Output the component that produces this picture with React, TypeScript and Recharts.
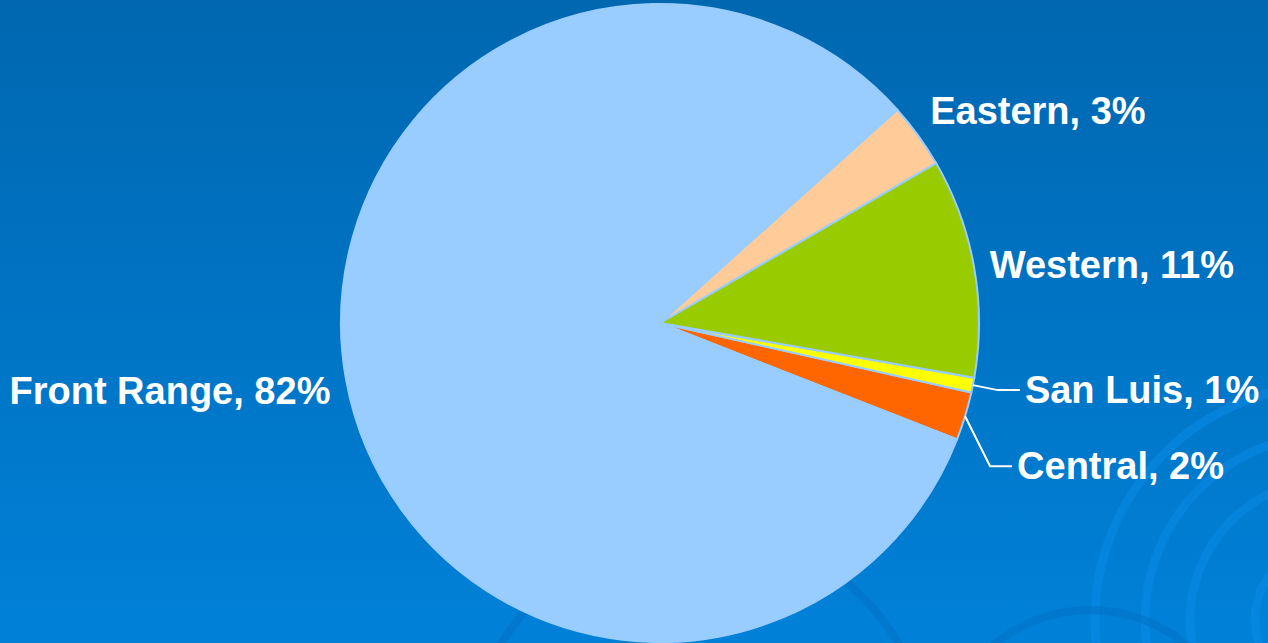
import React from 'react';
import { PieChart, Pie, Cell } from 'recharts';

// slices in drawing order (counter-clockwise, starting at the bottom of Central)
const regions = ['Central', 'San Luis', 'Western', 'Eastern', 'Front Range'];
const shares = [2.45, 0.75, 11.1, 3.3, 82.4];
const colors = ['#FF6600', '#FFFF00', '#99CC00', '#FFCC99', '#99CCFF'];

// label tweaks: vertical drop of the leader line for small slices, nudges for the others
const leaderDrop: Record<string, number> = { Central: 50, 'San Luis': 5 };
const labelNudge: Record<string, [number, number]> = {
  Eastern: [-4, -13],
  Western: [-4, 1],
  'Front Range': [4, 8],
};

const data = regions.map((name, i) => ({ name, value: shares[i] }));

const RAD = Math.PI / 180;
const font = { fontFamily: '"Liberation Sans", Arial, sans-serif', fontWeight: 700, fontSize: 38 };

function renderLabel(props: any) {
  const { cx, cy, midAngle, outerRadius, name, percent } = props;
  const cos = Math.cos(-midAngle * RAD);
  const sin = Math.sin(-midAngle * RAD);
  const text = `${name}, ${Math.round(percent * 100)}%`;
  if (percent < 0.03) {
    const sx = cx + outerRadius * cos;
    const sy = cy + outerRadius * sin;
    const ex = sx + 25;
    const ey = sy + (leaderDrop[name] ?? 0);
    const tx = ex + 22;
    return (
      <g>
        <polyline points={`${sx},${sy} ${ex},${ey} ${tx},${ey}`} fill="none" stroke="#ffffff" strokeWidth={2} />
        <text x={tx + 5} y={ey} fill="#ffffff" textAnchor="start" dominantBaseline="central" style={font}>
          {text}
        </text>
      </g>
    );
  }
  const r = outerRadius + 20;
  const [nx, ny] = labelNudge[name] ?? [0, 0];
  const x = cx + r * cos + nx;
  const y = cy + r * sin + ny;
  return (
    <text x={x} y={y} fill="#ffffff" textAnchor={cos >= 0 ? 'start' : 'end'} dominantBaseline="central" style={font}>
      {text}
    </text>
  );
}

export default function App() {
  return (
    <div
      style={{
        position: 'absolute',
        left: 0,
        top: 0,
        width: 1268,
        height: 643,
        overflow: 'hidden',
        background: 'linear-gradient(180deg, #0067B0 0%, #0074C4 50%, #0081D8 100%)',
      }}
    >
      {/* faint background rings */}
      <svg width={1268} height={643} style={{ position: 'absolute', left: 0, top: 0 }}>
        <g fill="none" stroke="#0A8CE8" strokeOpacity={0.5} strokeWidth={9}>
          <circle cx={1330} cy={620} r={140} />
          <circle cx={1330} cy={620} r={185} />
          <circle cx={1330} cy={620} r={235} />
          <circle cx={1330} cy={620} r={75} />
        </g>
        <g fill="none" stroke="#0070C4" strokeOpacity={0.5} strokeWidth={8}>
          <circle cx={700} cy={760} r={230} />
          <circle cx={1090} cy={760} r={150} />
        </g>
      </svg>
      <PieChart
        width={1268}
        height={643}
        margin={{ top: 0, right: 0, bottom: 0, left: 0 }}
        style={{ position: 'absolute', left: 0, top: 0 }}
      >
        <Pie
          data={data}
          dataKey="value"
          nameKey="name"
          cx={660}
          cy={323}
          outerRadius={319}
          startAngle={-21.4}
          endAngle={338.6}
          stroke="#99CCFF"
          strokeWidth={2}
          label={renderLabel}
          labelLine={false}
          isAnimationActive={false}
        >
          {data.map((d, i) => (
            <Cell key={d.name} fill={colors[i]} />
          ))}
        </Pie>
      </PieChart>
    </div>
  );
}
